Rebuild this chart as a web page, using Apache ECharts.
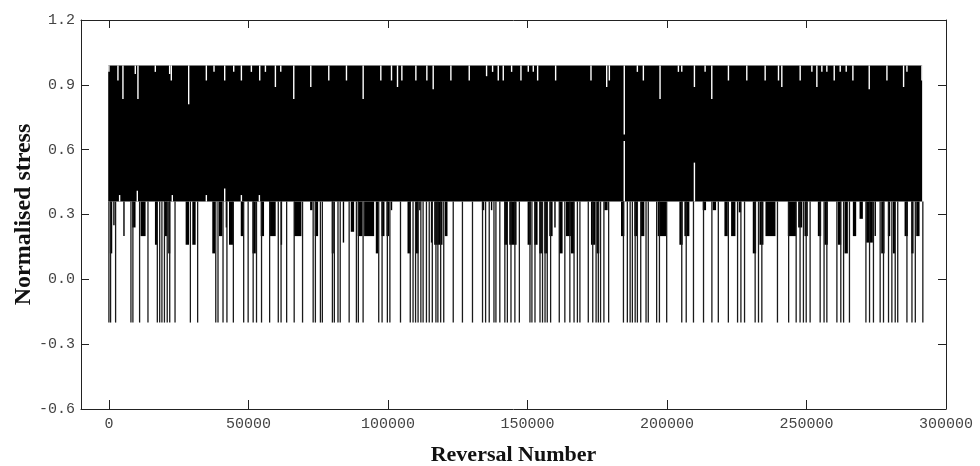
<!DOCTYPE html>
<html>
<head>
<meta charset="utf-8">
<script src="https://cdn.jsdelivr.net/npm/echarts@6/dist/echarts.min.js"></script>
<style>
html, body { margin: 0; background: #fff; }
#chart { width: 980px; height: 466px; }
</style>
</head>
<body>
<div id="chart"></div>
<script>
// tick labels
var xTicks = [0, 50000, 100000, 150000, 200000, 250000, 300000];

// the dense body of reversals: from first to last reversal, valley level .. peak level
var bandRange = [0, 291700];
var bandLevels = [0.36, 0.99];

// reversals that drop to the lowest level (-0.2)
var deepValleyLevel = -0.2;
var deepValleyX = [
	0, 600, 2400, 7900, 8600, 11000, 14000, 17350, 18200, 19000, 19900, 20900, 21800, 23700,
	29200, 31800, 38300, 39100, 40900, 42300, 44600, 48300, 49900, 51700, 52900, 54700, 57600,
	60700, 61700, 63700, 66400, 69400, 73200, 74000, 75800, 76500, 80100, 80800, 82100, 82900,
	86100, 88700, 89400, 91100, 96700, 97900, 99800, 100700, 104500, 108000, 109000, 109900,
	110800, 111800, 112600, 113800, 114800, 115900, 117200, 117900, 118900, 120000, 123400,
	126700, 130300, 133900, 135000, 136300, 138000, 138700, 140100, 141900, 142800, 144100,
	145500, 147100, 150900, 151600, 152700, 154500, 155400, 156300, 157100, 158300, 161400,
	163400, 165200, 166700, 167900, 168800, 171800, 173400, 174600, 175400, 176200, 177400,
	179100, 184400, 185800, 186800, 187600, 188600, 189400, 190600, 192500, 193300, 196300,
	197300, 199900, 205300, 206900, 209500, 213100, 216100, 218400, 222000, 225300, 226500,
	227800, 231600, 232800, 234000, 239600, 243600, 246300, 247700, 248900, 249900, 251300,
	254900, 256300, 257300, 260900, 262300, 263300, 265400, 271300, 272600, 274000, 276400,
	277600, 279400, 280600, 281800, 282700, 286000, 287800, 289000, 291700
];

// clusters of valleys at intermediate depth: [from, to, level]
var midValleys = [
	[600, 1450, 0.12], [1800, 1800, 0.25], [5400, 5400, 0.2], [8600, 9800, 0.24],
	[11600, 13400, 0.2], [16750, 17600, 0.16], [20000, 21200, 0.2], [21500, 22250, 0.12],
	[27750, 28950, 0.16], [30140, 31340, 0.16], [37300, 38300, 0.12], [39700, 40900, 0.2],
	[42100, 42100, 0.24], [43300, 44730, 0.16], [47500, 48300, 0.2], [51700, 52900, 0.12],
	[54650, 55850, 0.2], [57640, 60030, 0.2], [61830, 61830, 0.16], [66610, 69240, 0.2],
	[72350, 73180, 0.32], [74020, 75220, 0.2], [80120, 80830, 0.12], [84060, 84060, 0.17],
	[86930, 88130, 0.22], [89440, 91120, 0.2], [91710, 95300, 0.2], [95900, 96740, 0.12],
	[97930, 99010, 0.2], [99720, 100680, 0.2], [101280, 101280, 0.32], [107260, 108450, 0.12],
	[110250, 111200, 0.12], [111440, 111440, 0.32], [115630, 116220, 0.17], [116820, 119810, 0.16],
	[120650, 121600, 0.2], [133920, 134760, 0.32], [137150, 137150, 0.32], [141930, 143120, 0.16],
	[143720, 146350, 0.16], [150300, 151490, 0.16], [152690, 153880, 0.16], [154480, 155440, 0.12],
	[156280, 157470, 0.12], [158070, 159270, 0.2], [159860, 159860, 0.24], [161660, 162850, 0.12],
	[164050, 165840, 0.2], [165840, 167040, 0.12], [173010, 174570, 0.16], [175050, 176000, 0.12],
	[177800, 178990, 0.32], [183770, 184970, 0.2], [188560, 189750, 0.2], [190950, 192140, 0.2],
	[196930, 199910, 0.2], [204700, 205890, 0.16], [206490, 208280, 0.2], [213070, 214260, 0.32],
	[216650, 217850, 0.32], [220840, 222030, 0.2], [223230, 224790, 0.2], [225980, 226820, 0.31],
	[231000, 232200, 0.12], [233390, 234830, 0.16], [235550, 239130, 0.2], [243560, 246540, 0.2],
	[247260, 248700, 0.24], [249530, 250730, 0.2], [254320, 255510, 0.2], [256710, 257900, 0.16],
	[261490, 262680, 0.16], [263880, 265080, 0.12], [266870, 268060, 0.2], [269260, 270460, 0.28],
	[271650, 274040, 0.17], [274640, 274640, 0.2], [277030, 278230, 0.12], [279420, 280260, 0.2],
	[281220, 282060, 0.12], [285400, 286600, 0.2], [287800, 288630, 0.12], [289580, 290780, 0.2]
];

// peaks that stay below the usual peak level: [position, level]
var lowPeaks = [
	[0, 0.96], [3240, 0.92], [5030, 0.835], [9460, 0.95], [10410, 0.835], [16630, 0.96],
	[21770, 0.95], [22370, 0.92], [28590, 0.81], [34920, 0.92], [37670, 0.96], [41500, 0.92],
	[44730, 0.96], [47480, 0.92], [51060, 0.96], [54050, 0.92], [56090, 0.96], [59670, 0.89],
	[61590, 0.96], [66250, 0.835], [72350, 0.89], [78800, 0.92], [85140, 0.92], [91120, 0.835],
	[97450, 0.92], [101280, 0.92], [103430, 0.89], [104990, 0.92], [110010, 0.92], [113950, 0.92],
	[116220, 0.88], [122560, 0.92], [129140, 0.92], [135350, 0.94], [137510, 0.96], [139540, 0.92],
	[141330, 0.92], [144320, 0.96], [147670, 0.92], [150300, 0.96], [152090, 0.96], [153650, 0.92],
	[160100, 0.92], [172770, 0.92], [178400, 0.89], [179350, 0.92], [184700, 0.67], [189390, 0.96],
	[191540, 0.92], [197520, 0.835], [204100, 0.96], [205300, 0.96], [209840, 0.89], [213670, 0.96],
	[216060, 0.835], [222030, 0.92], [228610, 0.92], [235190, 0.92], [239970, 0.92], [241160, 0.89],
	[247740, 0.92], [251930, 0.96], [253720, 0.89], [255510, 0.96], [257300, 0.96], [259940, 0.92],
	[262090, 0.96], [264240, 0.96], [266630, 0.92], [272490, 0.88], [278830, 0.92], [284800, 0.89],
	[286000, 0.96], [291380, 0.92]
];

// valleys that stay above the usual valley level: [position, level]
var highValleys = [
	[3840, 0.39], [10180, 0.41], [22730, 0.39], [34920, 0.39], [41500, 0.42], [47480, 0.39],
	[53930, 0.39], [184700, 0.64], [209840, 0.54]
];

var chart = echarts.init(document.getElementById('chart'), null, { renderer: 'canvas' });

var labelFont = { fontFamily: 'Liberation Mono', fontSize: 15, color: '#444' };
var titleFont = { fontFamily: 'Liberation Serif', fontWeight: 'bold', color: '#111' };
var axisLine = { show: true, onZero: false, lineStyle: { color: '#222', width: 1 } };

function vline(color, width) {
	return function(params, api) {
		var p0 = api.coord([api.value(0), api.value(1)]);
		var p1 = api.coord([api.value(0), api.value(2)]);
		return {
			type: 'line',
			shape: { x1: p0[0], y1: p0[1], x2: p1[0], y2: p1[1] },
			style: { stroke: color, lineWidth: width }
		};
	};
}

function block(params, api) {
	var p0 = api.coord([api.value(0), api.value(2)]);
	var p1 = api.coord([api.value(1), api.value(3)]);
	var w = Math.max(p1[0] - p0[0], 1.4);
	return {
		type: 'rect',
		shape: { x: p0[0] - 0.7, y: p0[1], width: w, height: p1[1] - p0[1] },
		style: { fill: '#000' }
	};
}

var option = {
	animation: false,
	backgroundColor: '#fff',
	grid: { left: 81, right: 34, top: 20, bottom: 57, containLabel: false, outerBoundsMode: 'none' },
	xAxis: [{
		type: 'value',
		min: -10000,
		max: 300000,
		axisLine: axisLine,
		axisTick: { show: true, inside: true, length: 9, customValues: xTicks, lineStyle: { color: '#222' } },
		axisLabel: Object.assign({
			customValues: xTicks,
			margin: 8,
			formatter: function(v) { return String(v); }
		}, labelFont),
		splitLine: { show: false },
		name: 'Reversal Number',
		nameLocation: 'middle',
		nameGap: 35,
		nameTextStyle: Object.assign({ fontSize: 22 }, titleFont)
	}, {
		type: 'value',
		position: 'top',
		min: -10000,
		max: 300000,
		axisLine: axisLine,
		axisTick: { show: true, inside: true, length: 8, customValues: xTicks, lineStyle: { color: '#222' } },
		axisLabel: { show: false },
		splitLine: { show: false }
	}],
	yAxis: [{
		type: 'value',
		min: -0.6,
		max: 1.2,
		interval: 0.3,
		axisLine: axisLine,
		axisTick: { show: true, inside: true, length: 8, lineStyle: { color: '#222' } },
		axisLabel: Object.assign({
			margin: 6,
			formatter: function(v) { return v.toFixed(1); }
		}, labelFont),
		splitLine: { show: false },
		name: 'Normalised stress',
		nameLocation: 'middle',
		nameGap: 45,
		nameMoveOverlap: false,
		nameTextStyle: Object.assign({ fontSize: 24 }, titleFont)
	}, {
		type: 'value',
		position: 'right',
		min: -0.6,
		max: 1.2,
		interval: 0.3,
		axisLine: axisLine,
		axisTick: { show: true, inside: true, length: 8, lineStyle: { color: '#222' } },
		axisLabel: { show: false },
		splitLine: { show: false }
	}],
	series: [{
		type: 'custom',
		z: 1,
		silent: true,
		renderItem: block,
		data: [[bandRange[0], bandRange[1], bandLevels[1], bandLevels[0]]]
	}, {
		type: 'custom',
		z: 2,
		silent: true,
		renderItem: vline('#fff', 1.4),
		data: lowPeaks.map(function(p) { return [p[0], bandLevels[1], p[1]]; })
	}, {
		type: 'custom',
		z: 2,
		silent: true,
		renderItem: vline('#fff', 1.4),
		data: highValleys.map(function(p) { return [p[0], bandLevels[0], p[1]]; })
	}, {
		type: 'custom',
		z: 3,
		silent: true,
		renderItem: block,
		data: midValleys.map(function(m) { return [m[0], m[1], bandLevels[0], m[2]]; })
	}, {
		type: 'custom',
		z: 3,
		silent: true,
		renderItem: vline('#1a1a1a', 1.3),
		data: deepValleyX.map(function(x) { return [x, bandLevels[0], deepValleyLevel]; })
	}]
};

chart.setOption(option);
</script>
</body>
</html>
